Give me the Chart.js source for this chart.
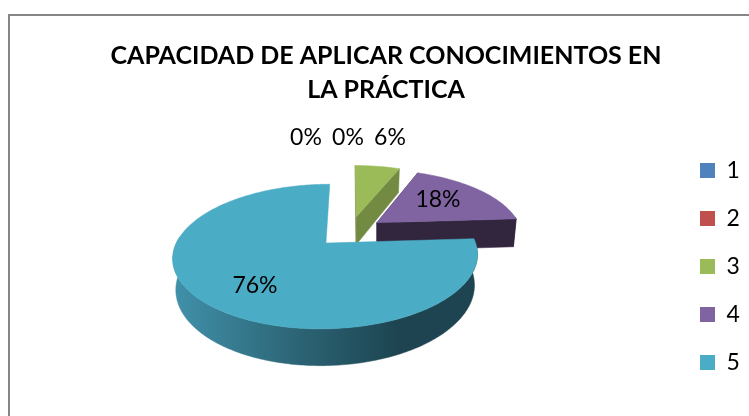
<!DOCTYPE html>
<html>
<head>
<meta charset="utf-8">
<style>
  html, body { margin: 0; padding: 0; background: #fff; }
  #box { width: 749px; height: 416px; }
</style>
<script src="https://cdn.jsdelivr.net/npm/chart.js@4/dist/chart.umd.js"></script>
</head>
<body>
<div id="box"><canvas id="chart"></canvas></div>
<script>
const categories = ['1', '2', '3', '4', '5']
const values = [0, 0, 6, 18, 76]
const titleLines = ['CAPACIDAD DE APLICAR CONOCIMIENTOS EN', 'LA PRÁCTICA']

const topColors = ['#4F81BD', '#C0504D', '#9BBB59', '#8064A2', '#4BACC6']
// left, middle, right colour of each slice's wall
const sideColors = [
  ['#3A6090', '#3A6090', '#3A6090'],
  ['#8E3A38', '#8E3A38', '#8E3A38'],
  ['#728A42', '#728A42', '#728A42'],
  ['#32263F', '#32263F', '#32263F'],
  ['#4090A9', '#2C6576', '#1D4450']
]

// 3D view of the flat pie
const view = { x: 350, y: 231.5, tilt: 0.452, persp: 5.53, depth: 29, shrink: 0.98 }
// text anchors for the percent labels
const labelSpots = [[306, 138], [348, 138], [390, 138], [438, 200], [255, 286]]

function project(el, px, py, drop) {
  const v = (py - el.y) / el.outerRadius
  const s = view.persp / (view.persp - v)
  return {
    x: view.x + (px - el.x) * s,
    y: view.y + (py - el.y) * view.tilt * s + drop * s
  }
}

function slicePoints(el) {
  const off = el.options.offset || 0
  const mid = (el.startAngle + el.endAngle) / 2
  const ax = el.x + Math.cos(mid) * off
  const ay = el.y + Math.sin(mid) * off
  const rim = []
  const steps = Math.max(2, Math.ceil((el.endAngle - el.startAngle) * 60))
  for (let k = 0; k <= steps; k++) {
    const a = el.startAngle + (el.endAngle - el.startAngle) * k / steps
    rim.push([ax + Math.cos(a) * el.outerRadius, ay + Math.sin(a) * el.outerRadius, Math.sin(a)])
  }
  return { apex: [ax, ay], rim }
}

function fillPoly(ctx, pts, fill) {
  ctx.beginPath()
  pts.forEach((p, n) => (n ? ctx.lineTo(p.x, p.y) : ctx.moveTo(p.x, p.y)))
  ctx.closePath()
  ctx.fillStyle = fill
  ctx.strokeStyle = fill
  ctx.lineWidth = 0.5
  ctx.fill()
  ctx.stroke()
}

const pie3d = {
  id: 'pie3d',
  beforeDraw(chart) {
    const ctx = chart.ctx
    ctx.save()
    ctx.fillStyle = '#fff'
    ctx.fillRect(0, 0, chart.width, chart.height)
    ctx.strokeStyle = '#868686'
    ctx.lineWidth = 2
    ctx.beginPath()
    ctx.moveTo(9, chart.height)
    ctx.lineTo(9, 15)
    ctx.lineTo(chart.width, 15)
    ctx.stroke()
    ctx.restore()
  },
  beforeDatasetDraw(chart, args) {
    const ctx = chart.ctx
    const arcs = chart.getDatasetMeta(args.index).data
    ctx.save()
    arcs.forEach((el, i) => {
      if (values[i] === 0) return
      const { apex, rim } = slicePoints(el)
      const aTop = project(el, apex[0], apex[1], 0)
      const aLow = project(el, apex[0], apex[1], view.depth)
      const tops = rim.map(p => project(el, p[0], p[1], 0))
      // the lower rim narrows a little towards the slice's own apex
      const lows = rim.map(p => {
        const q = project(el, p[0], p[1], view.depth)
        return { x: aLow.x + (q.x - aLow.x) * view.shrink, y: q.y }
      })
      const xs = lows.map(p => p.x)
      const grad = ctx.createLinearGradient(Math.min(...xs), 0, Math.max(...xs), 0)
      grad.addColorStop(0, sideColors[i][0])
      grad.addColorStop(0.4, sideColors[i][1])
      grad.addColorStop(0.75, sideColors[i][2])
      grad.addColorStop(1, sideColors[i][2])
      const last = rim.length - 1
      // big slice: its cut faces stay hidden behind the top
      if (el.endAngle - el.startAngle < Math.PI) {
        fillPoly(ctx, [aTop, tops[0], lows[0], aLow], grad)
        fillPoly(ctx, [aTop, tops[last], lows[last], aLow], grad)
      }
      // outer wall only on the side facing the viewer
      const front = rim.map((p, n) => n).filter(n => rim[n][2] > -0.1)
      if (front.length > 1) {
        const wall = front.map(n => tops[n]).concat(front.map(n => lows[n]).reverse())
        fillPoly(ctx, wall, grad)
      }
      fillPoly(ctx, [aTop].concat(tops), topColors[i])
    })
    ctx.restore()
    return false
  },
  afterDatasetsDraw(chart) {
    const ctx = chart.ctx
    const total = values.reduce((a, b) => a + b, 0)
    ctx.save()
    ctx.font = '23px Lato'
    ctx.fillStyle = '#000'
    ctx.textAlign = 'center'
    ctx.textBaseline = 'middle'
    values.forEach((v, i) => {
      ctx.fillText(Math.round(v / total * 100) + '%', labelSpots[i][0], labelSpots[i][1])
    })
    ctx.restore()
  }
}

new Chart(document.getElementById('chart'), {
  type: 'pie',
  data: {
    labels: categories,
    datasets: [{
      data: values,
      backgroundColor: topColors,
      borderWidth: 0,
      offset: 34,
      radius: 145
    }]
  },
  plugins: [pie3d],
  options: {
    responsive: true,
    maintainAspectRatio: false,
    animation: false,
    layout: { padding: { left: 23, bottom: 17 } },
    plugins: {
      tooltip: { enabled: false },
      title: {
        display: true,
        text: titleLines,
        color: '#000',
        font: { family: 'Lato', size: 25, weight: 'bold', lineHeight: 1.36 },
        padding: { top: 39, bottom: 12 }
      },
      legend: {
        position: 'right',
        align: 'end',
        maxWidth: 74,
        labels: {
          color: '#000',
          boxWidth: 15,
          boxHeight: 15,
          padding: 25,
          font: { family: 'Lato', size: 23 }
        }
      }
    }
  }
})
</script>
</body>
</html>
